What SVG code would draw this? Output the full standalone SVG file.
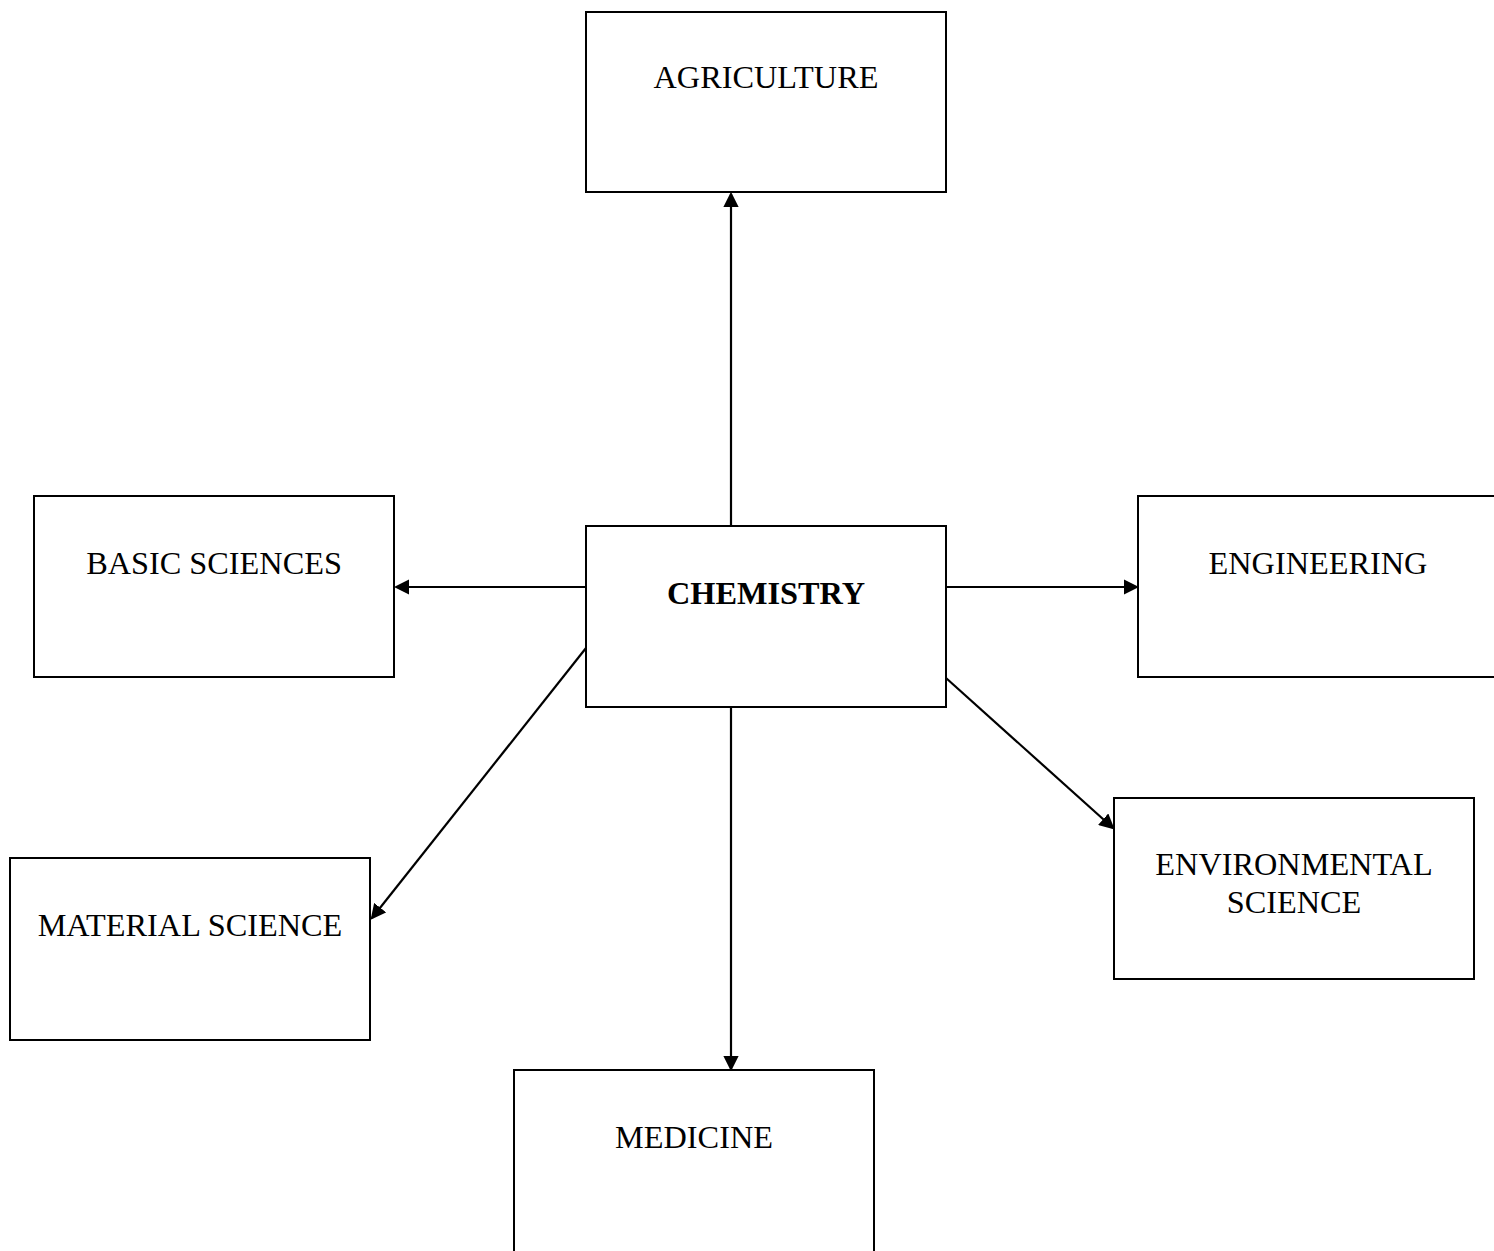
<svg xmlns="http://www.w3.org/2000/svg" width="1494" height="1251" viewBox="0 0 1494 1251">
<style>
.box{fill:#fff;stroke:#000;stroke-width:2}
.t{font-family:"Liberation Serif","Times New Roman",serif;font-size:32.3px;fill:#000;text-anchor:middle}
.b{font-weight:bold}
.c{stroke:#000;stroke-width:2.2;fill:none;marker-end:url(#ah)}
</style>
<defs>
<marker id="ah" markerWidth="7" markerHeight="7" refX="6" refY="3.5" orient="auto" markerUnits="strokeWidth">
<path d="M0,0 L7,3.5 L0,7 Z" fill="#000"/>
</marker>
</defs>
<rect width="1494" height="1251" fill="#fff"/>
<g id="connectors">
<line class="c" x1="731" y1="526" x2="731" y2="194"/>
<line class="c" x1="586" y1="587" x2="396" y2="587"/>
<line class="c" x1="946" y1="587" x2="1137" y2="587"/>
<line class="c" x1="731" y1="707" x2="731" y2="1069"/>
<line class="c" x1="586" y1="648" x2="372" y2="918"/>
<line class="c" x1="946" y1="678" x2="1113" y2="828"/>
</g>
<g id="agriculture"><rect class="box" x="586" y="12" width="360" height="180"/><text class="t" x="766" y="88">AGRICULTURE</text></g>
<g id="chemistry"><rect class="box" x="586" y="526" width="360" height="181"/><text class="t b" x="766" y="604">CHEMISTRY</text></g>
<g id="basic-sciences"><rect class="box" x="34" y="496" width="360" height="181"/><text class="t" x="214" y="574">BASIC SCIENCES</text></g>
<g id="engineering"><rect class="box" x="1138" y="496" width="360" height="181"/><text class="t" x="1318" y="574">ENGINEERING</text></g>
<g id="material-science"><rect class="box" x="10" y="858" width="360" height="182"/><text class="t" x="190" y="936">MATERIAL SCIENCE</text></g>
<g id="environmental-science"><rect class="box" x="1114" y="798" width="360" height="181"/><text class="t" x="1294" y="875">ENVIRONMENTAL</text><text class="t" x="1294" y="913">SCIENCE</text></g>
<g id="medicine"><rect class="box" x="514" y="1070" width="360" height="200"/><text class="t" x="694" y="1148">MEDICINE</text></g>
</svg>
